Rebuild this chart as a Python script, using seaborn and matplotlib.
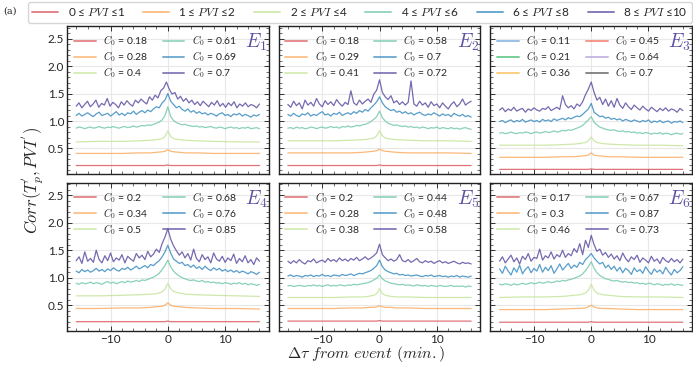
import numpy as np
import matplotlib.pyplot as plt
import seaborn as sns
from matplotlib.lines import Line2D
from matplotlib.ticker import MultipleLocator, AutoMinorLocator

# time lags (min.) : fine grid for the noisy curves, coarse grid for the smooth ones
lag_coarse = [-16, -12, -8, -5, -3, -2, -1, -0.5, 0, 0.5, 1, 2, 3, 5, 8, 12, 16]

pvi_labels = ["0 ≤ $PVI$ ≤1", "1 ≤ $PVI$ ≤2", "2 ≤ $PVI$ ≤4",
              "4 ≤ $PVI$ ≤6", "6 ≤ $PVI$ ≤8", "8 ≤ $PVI$ ≤10"]
line_colors = ["#dc5a5f", "#fcab62", "#c6e59c", "#74c9ab", "#3a8cc1", "#5e4fa2"]
panel_names = ["$E_1$", "$E_2$", "$E_3$", "$E_4$", "$E_5$", "$E_6$"]

# C0 values shown in each panel legend
c0_e1 = [0.18, 0.28, 0.4, 0.61, 0.69, 0.7]
c0_e2 = [0.18, 0.29, 0.41, 0.58, 0.7, 0.72]
c0_e3 = [0.11, 0.21, 0.36, 0.45, 0.64, 0.7]
c0_e4 = [0.2, 0.34, 0.5, 0.68, 0.76, 0.85]
c0_e5 = [0.2, 0.28, 0.38, 0.44, 0.48, 0.58]
c0_e6 = [0.17, 0.3, 0.46, 0.67, 0.87, 0.73]
# E3 legend uses other colours in the original
e3_legend_colors = ["#6fa8dc", "#3dbb6c", "#fdb84e", "#f26b5b", "#b39ddb", "#555555"]

# ---- E1
e1_pvi01 = [0.19, 0.19, 0.19, 0.19, 0.19, 0.19, 0.19, 0.19, 0.20, 0.19, 0.19, 0.19, 0.19, 0.19, 0.19, 0.19, 0.19]
e1_pvi12 = [0.41, 0.41, 0.41, 0.42, 0.42, 0.43, 0.44, 0.45, 0.48, 0.45, 0.44, 0.43, 0.42, 0.42, 0.41, 0.41, 0.41]
e1_pvi24 = [0.62, 0.63, 0.63, 0.64, 0.65, 0.66, 0.68, 0.72, 0.82, 0.72, 0.68, 0.66, 0.65, 0.64, 0.63, 0.62, 0.62]
e1_pvi46 = [0.87, 0.89, 0.88, 0.86, 0.88, 0.89, 0.87, 0.88, 0.90, 0.88, 0.87, 0.89, 0.88, 0.90, 0.88, 0.87,
            0.89, 0.90, 0.88, 0.89, 0.91, 0.89, 0.90, 0.92, 0.91, 0.93, 0.92, 0.94, 0.96, 0.98, 1.02, 1.10,
            1.26,
            1.08, 1.01, 0.97, 0.95, 0.93, 0.94, 0.92, 0.91, 0.90, 0.91, 0.89, 0.90, 0.88, 0.89, 0.90, 0.88,
            0.87, 0.89, 0.88, 0.86, 0.88, 0.89, 0.87, 0.88, 0.86, 0.88, 0.87, 0.89, 0.86, 0.87, 0.88, 0.86]
e1_pvi68 = [1.10, 1.14, 1.09, 1.12, 1.15, 1.11, 1.08, 1.13, 1.16, 1.10, 1.12, 1.14, 1.09, 1.13, 1.17, 1.11,
            1.14, 1.10, 1.15, 1.13, 1.18, 1.12, 1.16, 1.19, 1.15, 1.20, 1.17, 1.22, 1.26, 1.24, 1.33, 1.38,
            1.50,
            1.36, 1.30, 1.24, 1.27, 1.21, 1.18, 1.22, 1.16, 1.19, 1.14, 1.17, 1.13, 1.15, 1.11, 1.14, 1.12,
            1.09, 1.13, 1.15, 1.10, 1.12, 1.08, 1.13, 1.11, 1.14, 1.09, 1.12, 1.10, 1.07, 1.11, 1.09, 1.12]
e1_pvi810 = [1.27, 1.33, 1.24, 1.30, 1.36, 1.26, 1.31, 1.38, 1.25, 1.32, 1.29, 1.41, 1.27, 1.34, 1.30, 1.24,
             1.35, 1.29, 1.37, 1.31, 1.27, 1.38, 1.33, 1.40, 1.35, 1.31, 1.44, 1.38, 1.47, 1.42, 1.55, 1.60,
             1.71,
             1.58, 1.49, 1.52, 1.40, 1.45, 1.36, 1.41, 1.33, 1.38, 1.30, 1.35, 1.28, 1.36, 1.31, 1.26, 1.34,
             1.29, 1.37, 1.27, 1.32, 1.25, 1.33, 1.28, 1.35, 1.24, 1.31, 1.27, 1.33, 1.26, 1.30, 1.28, 1.24, 1.31]

# ---- E2
e2_pvi01 = [0.19, 0.19, 0.19, 0.19, 0.19, 0.19, 0.19, 0.19, 0.20, 0.19, 0.19, 0.19, 0.19, 0.19, 0.19, 0.19, 0.19]
e2_pvi12 = [0.42, 0.42, 0.42, 0.42, 0.43, 0.44, 0.45, 0.46, 0.49, 0.46, 0.45, 0.44, 0.43, 0.42, 0.42, 0.42, 0.41]
e2_pvi24 = [0.64, 0.64, 0.64, 0.65, 0.66, 0.67, 0.69, 0.73, 0.82, 0.73, 0.69, 0.67, 0.66, 0.65, 0.64, 0.64, 0.63]
e2_pvi46 = [0.87, 0.88, 0.86, 0.89, 0.87, 0.88, 0.86, 0.87, 0.89, 0.88, 0.86, 0.88, 0.89, 0.87, 0.88, 0.90,
            0.88, 0.89, 0.87, 0.90, 0.89, 0.91, 0.89, 0.90, 0.92, 0.91, 0.93, 0.94, 0.96, 0.99, 1.03, 1.08,
            1.18,
            1.06, 1.00, 0.96, 0.94, 0.92, 0.93, 0.91, 0.90, 0.91, 0.89, 0.90, 0.88, 0.89, 0.87, 0.89, 0.88,
            0.86, 0.88, 0.87, 0.89, 0.86, 0.88, 0.87, 0.86, 0.88, 0.86, 0.87, 0.85, 0.87, 0.88, 0.86, 0.85]
e2_pvi68 = [1.12, 1.09, 1.14, 1.10, 1.08, 1.13, 1.11, 1.15, 1.09, 1.12, 1.10, 1.14, 1.17, 1.11, 1.13, 1.09,
            1.14, 1.12, 1.16, 1.10, 1.13, 1.15, 1.12, 1.17, 1.14, 1.19, 1.16, 1.21, 1.18, 1.24, 1.29, 1.35,
            1.44,
            1.33, 1.26, 1.22, 1.19, 1.21, 1.16, 1.18, 1.14, 1.17, 1.13, 1.15, 1.11, 1.14, 1.16, 1.12, 1.10,
            1.13, 1.11, 1.15, 1.12, 1.09, 1.13, 1.10, 1.12, 1.08, 1.14, 1.11, 1.09, 1.12, 1.08, 1.10, 1.07]
e2_pvi810 = [1.30, 1.25, 1.36, 1.28, 1.33, 1.22, 1.38, 1.29, 1.34, 1.27, 1.41, 1.31, 1.26, 1.37, 1.30, 1.35,
             1.28, 1.39, 1.32, 1.27, 1.34, 1.30, 1.55, 1.33, 1.29, 1.38, 1.31, 1.36, 1.40, 1.34, 1.49, 1.56,
             1.75,
             1.52, 1.44, 1.39, 1.46, 1.33, 1.37, 1.30, 1.35, 1.29, 1.34, 1.73, 1.31, 1.27, 1.36, 1.29, 1.33,
             1.25, 1.35, 1.28, 1.31, 1.24, 1.33, 1.27, 1.22, 1.30, 1.35, 1.26, 1.31, 1.40, 1.29, 1.33, 1.36]

# ---- E3
e3_pvi01 = [0.12, 0.12, 0.12, 0.12, 0.12, 0.12, 0.12, 0.12, 0.13, 0.12, 0.12, 0.12, 0.12, 0.12, 0.12, 0.12, 0.12]
e3_pvi12 = [0.34, 0.34, 0.34, 0.35, 0.35, 0.36, 0.37, 0.38, 0.42, 0.38, 0.37, 0.36, 0.35, 0.35, 0.34, 0.34, 0.34]
e3_pvi24 = [0.56, 0.56, 0.56, 0.57, 0.58, 0.59, 0.61, 0.64, 0.71, 0.64, 0.61, 0.59, 0.58, 0.57, 0.56, 0.56, 0.55]
e3_pvi46 = [0.78, 0.79, 0.77, 0.78, 0.80, 0.78, 0.77, 0.79, 0.78, 0.80, 0.79, 0.77, 0.79, 0.80, 0.78, 0.79,
            0.81, 0.79, 0.80, 0.82, 0.80, 0.81, 0.83, 0.82, 0.84, 0.83, 0.85, 0.87, 0.89, 0.92, 0.97, 1.02,
            1.08,
            0.98, 0.93, 0.89, 0.87, 0.85, 0.84, 0.83, 0.84, 0.82, 0.81, 0.82, 0.80, 0.81, 0.79, 0.80, 0.78,
            0.79, 0.77, 0.79, 0.78, 0.76, 0.78, 0.77, 0.79, 0.76, 0.78, 0.77, 0.75, 0.77, 0.78, 0.76, 0.77]
e3_pvi68 = [0.99, 1.01, 0.97, 1.00, 1.02, 0.98, 1.01, 0.99, 1.03, 0.98, 1.00, 1.02, 0.99, 1.01, 0.98, 1.03,
            1.00, 1.02, 0.99, 1.04, 1.01, 1.03, 1.05, 1.02, 1.06, 1.04, 1.07, 1.09, 1.08, 1.12, 1.17, 1.22,
            1.32,
            1.16, 1.12, 1.08, 1.09, 1.05, 1.07, 1.03, 1.05, 1.02, 1.04, 1.00, 1.03, 1.01, 0.99, 1.02, 1.00,
            0.98, 1.01, 0.99, 1.02, 0.97, 1.00, 0.98, 1.01, 0.97, 0.99, 1.00, 0.96, 0.99, 0.98, 1.00, 0.97]
e3_pvi810 = [1.20, 1.24, 1.17, 1.22, 1.19, 1.25, 1.18, 1.21, 1.23, 1.16, 1.22, 1.19, 1.24, 1.20, 1.18, 1.23,
             1.21, 1.26, 1.19, 1.22, 1.25, 1.21, 1.46, 1.30, 1.24, 1.28, 1.22, 1.31, 1.27, 1.35, 1.48, 1.58,
             1.71,
             1.52, 1.38, 1.43, 1.30, 1.40, 1.27, 1.37, 1.25, 1.41, 1.29, 1.23, 1.33, 1.26, 1.21, 1.29, 1.24,
             1.20, 1.27, 1.22, 1.18, 1.25, 1.21, 1.17, 1.23, 1.19, 1.24, 1.18, 1.22, 1.20, 1.16, 1.23, 1.19]

# ---- E4
e4_pvi01 = [0.20, 0.20, 0.20, 0.20, 0.20, 0.20, 0.20, 0.20, 0.21, 0.20, 0.20, 0.20, 0.20, 0.20, 0.20, 0.20, 0.20]
e4_pvi12 = [0.44, 0.44, 0.45, 0.45, 0.46, 0.47, 0.48, 0.50, 0.54, 0.50, 0.48, 0.47, 0.46, 0.45, 0.44, 0.44, 0.43]
e4_pvi24 = [0.67, 0.67, 0.68, 0.69, 0.70, 0.71, 0.74, 0.79, 0.90, 0.80, 0.75, 0.72, 0.70, 0.69, 0.68, 0.67, 0.66]
e4_pvi46 = [0.90, 0.88, 0.91, 0.89, 0.90, 0.92, 0.89, 0.91, 0.90, 0.88, 0.91, 0.93, 0.90, 0.92, 0.89, 0.91,
            0.93, 0.91, 0.94, 0.92, 0.93, 0.95, 0.93, 0.96, 0.95, 0.97, 0.99, 1.01, 1.04, 1.08, 1.15, 1.22,
            1.32,
            1.20, 1.12, 1.07, 1.03, 1.00, 0.98, 0.96, 0.95, 0.96, 0.94, 0.93, 0.95, 0.92, 0.93, 0.91, 0.92,
            0.90, 0.91, 0.89, 0.91, 0.90, 0.88, 0.90, 0.89, 0.91, 0.88, 0.90, 0.87, 0.89, 0.88, 0.86, 0.88]
e4_pvi68 = [1.12, 1.09, 1.15, 1.11, 1.14, 1.10, 1.13, 1.17, 1.12, 1.15, 1.11, 1.16, 1.13, 1.18, 1.14, 1.12,
            1.17, 1.15, 1.19, 1.14, 1.17, 1.21, 1.16, 1.19, 1.22, 1.18, 1.24, 1.22, 1.27, 1.31, 1.38, 1.47,
            1.59,
            1.45, 1.34, 1.30, 1.26, 1.28, 1.22, 1.24, 1.19, 1.23, 1.17, 1.20, 1.15, 1.21, 1.16, 1.13, 1.18,
            1.14, 1.17, 1.12, 1.15, 1.11, 1.14, 1.10, 1.13, 1.09, 1.12, 1.10, 1.07, 1.11, 1.09, 1.06, 1.10]
e4_pvi810 = [1.31, 1.38, 1.26, 1.47, 1.30, 1.35, 1.28, 1.50, 1.33, 1.27, 1.40, 1.31, 1.45, 1.29, 1.36, 1.32,
             1.42, 1.27, 1.39, 1.34, 1.30, 1.44, 1.36, 1.41, 1.33, 1.48, 1.38, 1.43, 1.52, 1.46, 1.62, 1.74,
             1.89,
             1.70, 1.58, 1.49, 1.41, 1.47, 1.36, 1.44, 1.32, 1.52, 1.35, 1.29, 1.42, 1.33, 1.38, 1.27, 1.45,
             1.34, 1.30, 1.39, 1.28, 1.36, 1.31, 1.43, 1.26, 1.35, 1.29, 1.40, 1.27, 1.33, 1.24, 1.36, 1.30]

# ---- E5
e5_pvi01 = [0.21, 0.21, 0.21, 0.21, 0.21, 0.21, 0.21, 0.21, 0.22, 0.21, 0.21, 0.21, 0.21, 0.21, 0.21, 0.21, 0.21]
e5_pvi12 = [0.44, 0.44, 0.44, 0.45, 0.45, 0.46, 0.46, 0.47, 0.49, 0.47, 0.46, 0.46, 0.45, 0.45, 0.44, 0.44, 0.44]
e5_pvi24 = [0.64, 0.64, 0.64, 0.65, 0.65, 0.66, 0.68, 0.71, 0.80, 0.71, 0.68, 0.66, 0.65, 0.65, 0.64, 0.64, 0.64]
e5_pvi46 = [0.85, 0.86, 0.84, 0.85, 0.86, 0.85, 0.84, 0.86, 0.85, 0.87, 0.85, 0.86, 0.84, 0.86, 0.87, 0.85,
            0.86, 0.85, 0.87, 0.86, 0.85, 0.87, 0.86, 0.88, 0.87, 0.88, 0.89, 0.90, 0.91, 0.93, 0.96, 0.99,
            1.05,
            0.98, 0.94, 0.92, 0.90, 0.89, 0.88, 0.87, 0.88, 0.86, 0.87, 0.86, 0.85, 0.87, 0.86, 0.85, 0.86,
            0.84, 0.86, 0.85, 0.84, 0.86, 0.85, 0.84, 0.85, 0.86, 0.84, 0.85, 0.84, 0.85, 0.83, 0.85, 0.84]
e5_pvi68 = [1.03, 1.05, 1.02, 1.04, 1.03, 1.01, 1.04, 1.03, 1.05, 1.02, 1.04, 1.03, 1.06, 1.03, 1.04, 1.02,
            1.05, 1.04, 1.03, 1.06, 1.04, 1.05, 1.07, 1.04, 1.06, 1.08, 1.07, 1.09, 1.11, 1.13, 1.17, 1.22,
            1.32,
            1.20, 1.14, 1.11, 1.09, 1.07, 1.08, 1.05, 1.06, 1.04, 1.05, 1.03, 1.04, 1.05, 1.03, 1.02, 1.04,
            1.03, 1.05, 1.02, 1.03, 1.04, 1.02, 1.03, 1.01, 1.03, 1.02, 1.04, 1.01, 1.03, 1.02, 1.01, 1.03]
e5_pvi810 = [1.30, 1.26, 1.31, 1.27, 1.33, 1.28, 1.25, 1.31, 1.29, 1.34, 1.27, 1.30, 1.32, 1.28, 1.35, 1.30,
             1.33, 1.29, 1.36, 1.31, 1.34, 1.30, 1.35, 1.32, 1.37, 1.31, 1.34, 1.38, 1.33, 1.36, 1.40, 1.45,
             1.61,
             1.42, 1.36, 1.31, 1.34, 1.30, 1.33, 1.42, 1.31, 1.29, 1.33, 1.28, 1.31, 1.35, 1.29, 1.27, 1.31,
             1.28, 1.30, 1.26, 1.29, 1.31, 1.27, 1.29, 1.26, 1.28, 1.30, 1.27, 1.25, 1.28, 1.26, 1.27, 1.25]

# ---- E6
e6_pvi01 = [0.19, 0.19, 0.19, 0.19, 0.19, 0.19, 0.19, 0.19, 0.20, 0.19, 0.19, 0.19, 0.19, 0.19, 0.19, 0.19, 0.19]
e6_pvi12 = [0.42, 0.42, 0.42, 0.43, 0.44, 0.44, 0.45, 0.47, 0.50, 0.47, 0.45, 0.44, 0.44, 0.43, 0.42, 0.42, 0.42]
e6_pvi24 = [0.64, 0.65, 0.65, 0.66, 0.68, 0.69, 0.72, 0.77, 0.88, 0.77, 0.72, 0.69, 0.68, 0.66, 0.65, 0.65, 0.64]
e6_pvi46 = [0.88, 0.87, 0.89, 0.88, 0.86, 0.89, 0.87, 0.88, 0.90, 0.88, 0.89, 0.91, 0.89, 0.90, 0.92, 0.90,
            0.91, 0.93, 0.91, 0.92, 0.94, 0.93, 0.95, 0.94, 0.96, 0.97, 0.99, 1.01, 1.03, 1.07, 1.13, 1.20,
            1.29,
            1.17, 1.09, 1.04, 1.01, 0.98, 0.97, 0.95, 0.94, 0.95, 0.93, 0.92, 0.93, 0.91, 0.92, 0.90, 0.91,
            0.89, 0.90, 0.88, 0.90, 0.89, 0.87, 0.89, 0.88, 0.86, 0.88, 0.87, 0.89, 0.86, 0.88, 0.87, 0.86]
e6_pvi68 = [1.16, 1.08, 1.21, 1.12, 1.05, 1.18, 1.10, 1.23, 1.07, 1.15, 1.20, 1.09, 1.17, 1.12, 1.24, 1.10,
            1.19, 1.13, 1.22, 1.08, 1.16, 1.25, 1.14, 1.20, 1.26, 1.17, 1.23, 1.19, 1.28, 1.24, 1.33, 1.38,
            1.44,
            1.36, 1.30, 1.25, 1.28, 1.18, 1.23, 1.15, 1.21, 1.12, 1.19, 1.09, 1.17, 1.13, 1.06, 1.18, 1.11,
            1.15, 1.08, 1.20, 1.12, 1.06, 1.16, 1.10, 1.14, 1.07, 1.19, 1.11, 1.05, 1.15, 1.09, 1.13, 1.20]
e6_pvi810 = [1.30, 1.38, 1.27, 1.34, 1.41, 1.29, 1.36, 1.25, 1.39, 1.33, 1.44, 1.30, 1.37, 1.35, 1.52, 1.32,
             1.40, 1.36, 1.47, 1.34, 1.42, 1.38, 1.50, 1.37, 1.44, 1.40, 1.53, 1.46, 1.62, 1.42, 1.68, 1.55,
             1.77,
             1.60, 1.48, 1.52, 1.41, 1.46, 1.37, 1.43, 1.34, 1.40, 1.31, 1.45, 1.35, 1.29, 1.38, 1.33, 1.41,
             1.28, 1.36, 1.32, 1.27, 1.39, 1.30, 1.34, 1.26, 1.37, 1.31, 1.28, 1.35, 1.29, 1.33, 1.27, 1.34]

panels = [
    ([e1_pvi01, e1_pvi12, e1_pvi24, e1_pvi46, e1_pvi68, e1_pvi810], c0_e1),
    ([e2_pvi01, e2_pvi12, e2_pvi24, e2_pvi46, e2_pvi68, e2_pvi810], c0_e2),
    ([e3_pvi01, e3_pvi12, e3_pvi24, e3_pvi46, e3_pvi68, e3_pvi810], c0_e3),
    ([e4_pvi01, e4_pvi12, e4_pvi24, e4_pvi46, e4_pvi68, e4_pvi810], c0_e4),
    ([e5_pvi01, e5_pvi12, e5_pvi24, e5_pvi46, e5_pvi68, e5_pvi810], c0_e5),
    ([e6_pvi01, e6_pvi12, e6_pvi24, e6_pvi46, e6_pvi68, e6_pvi810], c0_e6),
]

sns.set_theme(style="ticks")
plt.rcParams['font.family'] = ['Lato', 'DejaVu Sans']
plt.rcParams['mathtext.fontset'] = 'cm'

fig, axes = plt.subplots(2, 3, figsize=(6.93, 3.66), dpi=100, sharex=True, sharey=True)
fig.subplots_adjust(left=0.0967, right=0.9986, top=0.9276, bottom=0.0956, wspace=0.05, hspace=0.06)

for k, (ax, (curves, c0)) in enumerate(zip(axes.flat, panels)):
    for j, vals in enumerate(curves):
        if len(vals) == len(lag_coarse):
            lag = lag_coarse
        else:
            lag = np.linspace(-16, 16, len(vals))
        sns.lineplot(x=lag, y=vals, ax=ax, color=line_colors[j], lw=0.9, alpha=0.85)

    ax.set_xlim(-17.6, 17.6)
    ax.set_ylim(0.03, 2.72)
    ax.xaxis.set_major_locator(MultipleLocator(10))
    ax.xaxis.set_minor_locator(AutoMinorLocator(5))
    ax.yaxis.set_major_locator(MultipleLocator(0.5))
    ax.yaxis.set_minor_locator(AutoMinorLocator(5))
    ax.tick_params(which='both', direction='in', top=True, right=True, labelsize=8.5,
                   color='#333333', pad=2)
    ax.tick_params(which='major', length=3.5, width=0.7)
    ax.tick_params(which='minor', length=2, width=0.5)
    ax.grid(True, which='major', color='#e8e8e8', lw=0.8)
    ax.set_axisbelow(True)
    for s in ax.spines.values():
        s.set_color('#222222')
        s.set_linewidth(1.0)

    leg_cols = e3_legend_colors if k == 2 else line_colors
    handles = [Line2D([], [], color=c, lw=1.4, alpha=0.7) for c in leg_cols]
    labels = [f"$C_0$ = {v}" for v in c0]
    ax.legend(handles, labels, loc='upper left', ncol=2, frameon=False, fontsize=7.5,
              handlelength=2.1, columnspacing=1.4, labelspacing=0.12, borderaxespad=0.25,
              handletextpad=0.7)
    ax.text(0.995, 0.965, panel_names[k], transform=ax.transAxes, ha='right', va='top',
            color='#5e4fa2', fontsize=14)

top_handles = [Line2D([], [], color=c, lw=1.4, alpha=0.75) for c in line_colors]
fig.legend(top_handles, pvi_labels, loc='center', ncol=6, mode='expand',
           bbox_to_anchor=(28 / 693, 1 - 23 / 366, 664 / 693, 21 / 366), fontsize=8.5,
           frameon=True, fancybox=True, edgecolor='#cccccc', handlelength=2.2,
           borderaxespad=0, borderpad=0.35)

fig.text(33 / 693, 0.508, r"$Corr(T^{'}_{p}, PVI^{'})$", rotation=90, fontsize=12,
         ha='center', va='center')
fig.text(366 / 693, 1 - 354 / 366, r"$\Delta\tau\ from\ event\ (min.)$", fontsize=11.5,
         ha='center', va='center')
fig.text(0.004, 0.97, "(a)", fontsize=7, family='serif', va='center')

fig.savefig("out.png", dpi=100)
